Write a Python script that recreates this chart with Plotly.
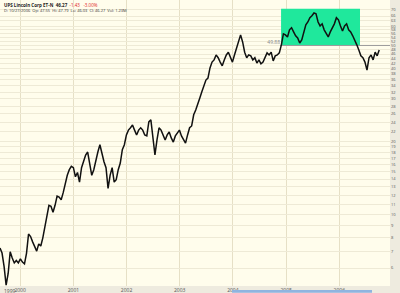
import plotly.graph_objects as go
import pandas as pd

prices = [7.26, 6.92, 6.1, 5.1, 5.7, 7.0, 6.6, 6.3, 6.45, 6.3,
          6.55, 6.35, 6.25, 6.9, 8.3, 8.1, 7.7, 7.35, 7.05, 7.55,
          7.4, 8.0, 8.8, 9.9, 10.9, 10.8, 10.2, 10.9, 11.9, 11.8,
          11.5, 12.3, 13.5, 14.5, 15.3, 15.8, 15.6, 14.3, 14.9, 13.6,
          15.6, 16.8, 17.6, 18.1, 16.0, 14.5, 15.3, 16.8, 18.1, 19.4,
          17.6, 16.5, 15.6, 12.8, 14.5, 15.6, 13.6, 13.9, 15.3, 16.3,
          18.5, 19.4, 21.3, 22.3, 22.8, 23.4, 22.3, 21.3, 22.3, 22.8,
          22.3, 21.3, 21.1, 24.1, 24.6, 20.3, 17.6, 20.3, 22.8, 22.3,
          21.1, 20.3, 21.3, 21.9, 20.7, 19.9, 21.1, 21.7, 22.3, 21.1,
          20.3, 19.7, 21.3, 22.8, 23.2, 25.8, 27.0, 28.9, 30.3, 32.1,
          34.3, 35.9, 36.6, 40.3, 42.6, 43.5, 45.6, 44.4, 42.6, 41.1,
          43.5, 45.6, 46.8, 44.4, 42.6, 45.6, 48.8, 52.6, 55.2, 51.6,
          46.8, 44.4, 45.6, 45.2, 43.5, 44.4, 42.2, 43.5, 41.9, 42.6,
          44.4, 46.5, 45.6, 46.8, 43.1, 45.2, 45.6, 46.5, 50.2, 55.7,
          55.2, 54.1, 57.9, 59.1, 56.8, 54.7, 53.6, 51.1, 52.6, 56.8,
          60.7, 62.4, 65.0, 66.2, 68.0, 67.4, 62.4, 60.1, 61.3, 57.9,
          55.7, 54.1, 56.8, 59.1, 61.3, 65.0, 63.7, 60.1, 57.3, 60.1,
          61.3, 57.9, 56.8, 54.7, 52.6, 50.2, 47.8, 45.2, 44.4, 42.6,
          39.5, 44.4, 45.6, 43.5, 46.8, 45.2, 47.8]
dates = pd.date_range("1999-08-16", periods=len(prices), freq="14D")

y_ticks = [6, 7, 8, 9, 10, 11, 12, 13, 14, 15, 16, 17, 18, 19, 20, 22, 24, 26, 28,
           30, 32, 34, 36, 38, 40, 42, 44, 46, 48, 50, 52, 54, 56, 58, 60, 63,
           66, 70]
year_ticks = ["2000-01-01", "2001-01-01", "2002-01-01", "2003-01-01",
              "2004-01-01", "2005-01-01", "2006-01-01"]
year_labels = ["2000", "2001", "2002", "2003", "2004", "2005", "2006"]

# highlighted range box and the reference level
box_dates = ["2004-11-27", "2006-05-23"]
box_prices = [49.9, 70.7]
level_price = 49.9
level_label = "49.88"
level_dates = ["2004-11-20", "2006-12-31"]

fig = go.Figure()
fig.add_trace(go.Scatter(
    x=[box_dates[0], box_dates[1], box_dates[1], box_dates[0], box_dates[0]],
    y=[box_prices[0], box_prices[0], box_prices[1], box_prices[1], box_prices[0]],
    fill="toself", fillcolor="#1fe89c", line=dict(width=0), mode="lines",
    hoverinfo="skip", showlegend=False))
fig.add_trace(go.Scatter(
    x=level_dates, y=[level_price, level_price], mode="lines",
    line=dict(color="#9a9a9a", width=1), showlegend=False))
fig.add_trace(go.Scatter(
    x=dates, y=prices, mode="lines",
    line=dict(color="#111111", width=1.5), showlegend=False))
fig.add_trace(go.Scatter(
    x=[level_dates[0]], y=[level_price], mode="text", text=[level_label],
    textposition="top left", textfont=dict(size=5, color="#888888"),
    showlegend=False))

fig.update_layout(
    width=400, height=293,
    margin=dict(l=0, r=0, t=0, b=7),
    paper_bgcolor="#eeebdf",
    plot_bgcolor="#fffdec",
    template="none",
    showlegend=False,
    xaxis=dict(
        type="date", range=["1999-08-16", "2006-12-15"], domain=[0, 0.975],
        tickvals=year_ticks, ticktext=year_labels, ticks="",
        showgrid=True, gridcolor="#e6e0c6", gridwidth=1,
        tickfont=dict(size=5, color="#555555"), zeroline=False,
        showline=False, automargin=False),
    yaxis=dict(
        type="log", range=[0.704, 1.886], side="right",
        tickvals=y_ticks, ticktext=[str(v) for v in y_ticks], ticks="",
        showgrid=True, gridcolor="#eeead6", gridwidth=1,
        tickfont=dict(size=4, color="#555555"), zeroline=False,
        showline=False, automargin=False),
    annotations=[
        dict(text="<b>UPS Lincoln Corp ET-N</b>  <b>46.27</b>  <span style='color:#e02020'>-1.43   -3.00%</span>",
             x=0.004, y=1.0, xref="paper", yref="paper", xanchor="left", yanchor="top",
             showarrow=False, font=dict(size=4.5, color="#222222")),
        dict(text="D: 10/27/2006  Op: 47.55  Hi: 47.79  Lo: 46.03  Cl: 46.27  Vol: 1.23M",
             x=0.004, y=0.978, xref="paper", yref="paper", xanchor="left", yanchor="top",
             showarrow=False, font=dict(size=4, color="#333333")),
        dict(text="1999", x=0.006, y=0, xref="paper", yref="paper", xanchor="left",
             yanchor="top", showarrow=False, font=dict(size=5, color="#555555")),
    ],
    shapes=[
        dict(type="rect", xref="paper", yref="paper", x0=0.58, x1=0.93, y0=-0.024, y1=-0.014,
             fillcolor="#8fb4e0", line=dict(width=0)),
    ],
)

fig.write_html("out.html", config={"displayModeBar": False})
